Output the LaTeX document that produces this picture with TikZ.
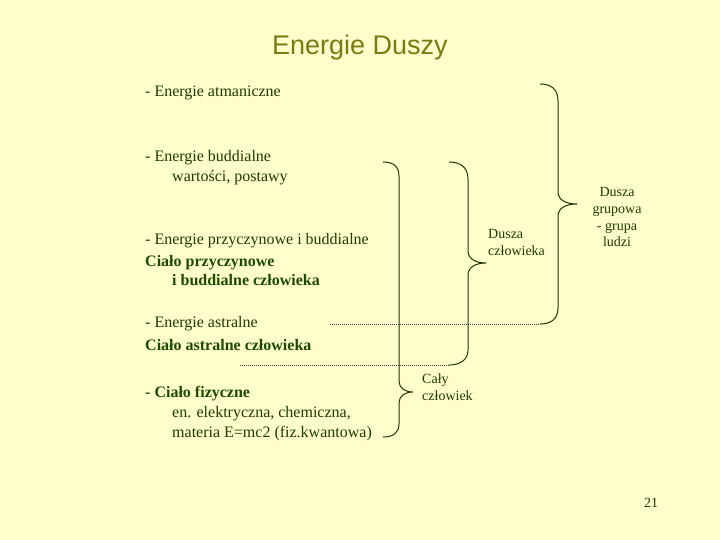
\documentclass[tikz,border=0pt]{standalone}
\usepackage{fontspec}
\setmainfont{Liberation Serif}
\newfontfamily\titlefont{Liberation Sans}
\definecolor{bgc}{HTML}{FFFFCC}
\definecolor{txtc}{HTML}{1F3A00}
\definecolor{boldc}{HTML}{1E4A00}
\definecolor{titlec}{HTML}{7A7A12}
\definecolor{linec}{HTML}{1F3300}
\definecolor{dotc}{HTML}{3A3A50}
\tikzset{
  body/.style={anchor=base west, inner sep=0pt, text=txtc, font=\fontsize{16}{19}\selectfont},
  bodyb/.style={body, text=boldc, font=\fontsize{16}{19}\selectfont\bfseries},
  lab/.style={inner sep=0pt, text=txtc, font=\fontsize{14}{17}\selectfont},
  bracec/.style={draw=linec, line width=1pt},
  dotline/.style={draw=dotc, line width=0.8pt, dash pattern=on 0.8pt off 1.2pt}
}
\begin{document}
\begin{tikzpicture}[x=1pt,y=-1pt]
\fill[bgc] (0,0) rectangle (720,540);
\useasboundingbox (0,0) rectangle (720,540);

\node[anchor=base, inner sep=0pt, text=titlec, font=\titlefont\fontsize{27}{32}\selectfont] (title) at (360,55) {Energie Duszy};

\node[body] (t1) at (145,97) {- Energie atmaniczne};
\node[body] (t2) at (145,162) {- Energie buddialne};
\node[body] (t2b) at (172,182) {wartości, postawy};
\node[body] (t3) at (145,244) {- Energie przyczynowe i buddialne};
\node[bodyb] (t3b) at (145,266) {Ciało przyczynowe};
\node[bodyb] (t3c) at (172,285) {i buddialne człowieka};
\node[body] (t4) at (145,327) {- Energie astralne};
\node[bodyb] (t4b) at (145,350) {Ciało astralne człowieka};
\node[bodyb] (t5) at (145,397) {- Ciało fizyczne};
\node[body] (t5b) at (172,417) {en. elektryczna, chemiczna,};
\node[body] (t5c) at (172,437) {materia E=mc2 (fiz.kwantowa)};

% brace 1 : Cały człowiek
\coordinate (b1t) at (383,162);
\coordinate (b1tip) at (413,392);
\coordinate (b1b) at (383,437);
\draw[bracec] (b1t) .. controls (393,162) and (399,166) .. (399,176) -- (399,381)
  .. controls (399,388) and (405,392) .. (b1tip)
  .. controls (405,392) and (399,396) .. (399,403) -- (399,424)
  .. controls (399,433) and (393,437) .. (b1b);
\node[lab, anchor=base west, align=left] (l1) at (422,400) {Cały\\człowiek};

% brace 2 : Dusza człowieka
\coordinate (b2t) at (449,162);
\coordinate (b2tip) at (486,263);
\coordinate (b2b) at (449,365);
\coordinate (d2) at (240,365);
\draw[bracec] (b2t) .. controls (460,162) and (468,167) .. (468,179) -- (468,251)
  .. controls (468,259) and (476,263) .. (b2tip)
  .. controls (476,263) and (468,267) .. (468,275) -- (468,350)
  .. controls (468,360) and (460,365) .. (b2b);
\draw[dotline] (d2) -- (b2b);
\node[lab, anchor=base west, align=left] (l2) at (488,255) {Dusza\\człowieka};

% brace 3 : Dusza grupowa
\coordinate (b3t) at (540,84);
\coordinate (b3tip) at (577,204);
\coordinate (b3b) at (540,324);
\coordinate (d3) at (330,324);
\draw[bracec] (b3t) .. controls (551,84) and (558,89) .. (558,101) -- (558,192)
  .. controls (558,200) and (566,204) .. (b3tip)
  .. controls (566,204) and (558,208) .. (558,216) -- (558,308)
  .. controls (558,319) and (551,324) .. (b3b);
\draw[dotline] (d3) -- (b3b);
\node[lab, anchor=base, align=center, font=\fontsize{14}{16.8}\selectfont] (l3) at (617,247) {Dusza\\grupowa\\- grupa\\ludzi};

\node[lab, anchor=base] (pg) at (651,507) {21};
\end{tikzpicture}
\end{document}
